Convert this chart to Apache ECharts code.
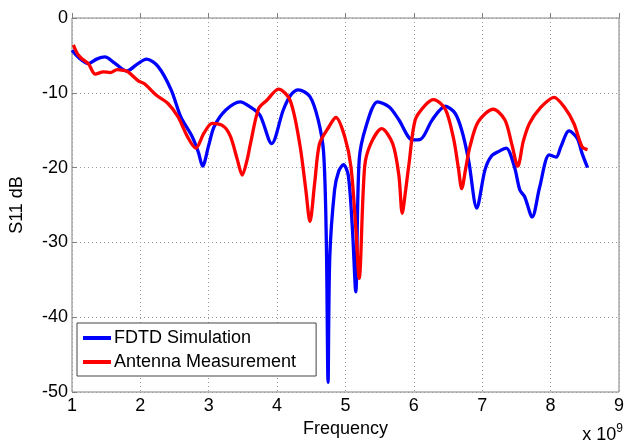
<!DOCTYPE html>
<html><head><meta charset="utf-8">
<script src="https://cdn.jsdelivr.net/npm/echarts@6/dist/echarts.min.js"></script>
<style>html,body{margin:0;padding:0;background:#fff}#c{width:627px;height:444px}</style>
</head><body><div id="c"></div>
<script>
const xTicks = [1,2,3,4,5,6,7,8,9];
const yTicks = [-50,-40,-30,-20,-10,0];
const simFreq = [1.00,1.10,1.24,1.36,1.48,1.62,1.80,1.95,2.09,2.26,2.45,2.59,2.76,2.85,2.91,3.00,3.08,3.25,3.46,3.61,3.75,3.92,4.09,4.20,4.31,4.48,4.60,4.68,4.72,4.745,4.77,4.84,4.90,4.97,5.04,5.10,5.15,5.20,5.30,5.47,5.64,5.78,5.98,6.10,6.27,6.46,6.60,6.70,6.80,6.92,7.04,7.13,7.25,7.35,7.47,7.55,7.62,7.73,7.84,7.98,8.08,8.15,8.27,8.39,8.46,8.54];
const simDb = [-4.3,-5.3,-6.1,-5.5,-5.2,-6.0,-7.1,-6.2,-5.5,-6.5,-9.6,-13.2,-15.9,-18.0,-19.8,-17.0,-14.5,-12.3,-11.2,-11.9,-13.0,-16.8,-12.3,-10.3,-9.6,-10.5,-13.6,-18.0,-30.0,-48.7,-32.0,-23.0,-20.5,-19.6,-21.0,-28.0,-36.6,-19.0,-14.5,-11.2,-11.9,-13.6,-16.3,-16.2,-13.6,-11.8,-12.7,-15.0,-19.0,-25.4,-20.3,-18.5,-17.8,-17.4,-19.9,-23.0,-23.9,-26.6,-22.6,-18.3,-18.6,-17.2,-15.1,-16.1,-18.1,-20.0];
const measFreq = [1.02,1.08,1.14,1.24,1.34,1.46,1.56,1.66,1.75,1.82,1.97,2.06,2.23,2.40,2.55,2.69,2.81,2.93,3.05,3.22,3.32,3.42,3.49,3.56,3.61,3.73,3.85,4.02,4.19,4.33,4.42,4.48,4.55,4.62,4.74,4.86,4.99,5.08,5.15,5.20,5.28,5.37,5.53,5.69,5.78,5.83,5.88,5.93,6.02,6.17,6.29,6.46,6.58,6.65,6.70,6.76,6.82,6.94,7.16,7.33,7.43,7.52,7.60,7.69,7.84,8.05,8.20,8.34,8.46,8.54];
const measDb = [-3.6,-4.8,-5.4,-6.1,-7.5,-7.2,-7.3,-6.9,-7.0,-7.2,-8.4,-8.8,-10.3,-11.4,-13.2,-15.9,-17.4,-15.4,-14.1,-14.5,-15.9,-19.0,-21.0,-19.0,-16.8,-12.1,-11.0,-9.5,-11.0,-16.8,-23.0,-27.2,-22.0,-16.8,-14.8,-13.3,-15.9,-19.9,-28.0,-34.8,-19.9,-16.8,-14.8,-16.8,-21.0,-26.1,-23.0,-19.4,-13.6,-11.6,-10.9,-12.2,-16.1,-20.0,-22.8,-20.0,-17.2,-13.9,-12.2,-13.6,-16.8,-19.8,-16.5,-14.1,-12.1,-10.6,-11.9,-14.1,-17.2,-17.6];
const seriesNames = ['FDTD Simulation','Antenna Measurement'];

const font = 'Liberation Sans, Arial, sans-serif';
const axisGray = '#808080';
const chart = echarts.init(document.getElementById('c'), null, {renderer:'canvas'});
const zip = (a,b)=>a.map((v,i)=>[v,b[i]]);
chart.setOption({
  animation:false,
  grid:{left:70,right:5,top:18,bottom:52,show:true,borderColor:axisGray,borderWidth:1,backgroundColor:'transparent'},
  xAxis:{type:'value',min:xTicks[0],max:xTicks[xTicks.length-1],interval:1,
    name:'Frequency',nameLocation:'middle',nameGap:26,
    nameTextStyle:{fontFamily:font,fontSize:18,color:'#000'},
    axisLine:{show:false},axisTick:{show:true,inside:true,length:5,lineStyle:{color:axisGray}},
    axisLabel:{fontFamily:font,fontSize:18,color:'#000',margin:5,formatter:v=>String(v)},
    splitLine:{show:true,lineStyle:{color:'#9a9a9a',type:[1,3],width:1}}},
  yAxis:{type:'value',min:yTicks[0],max:yTicks[yTicks.length-1],interval:10,
    name:'S11 dB',nameLocation:'middle',nameGap:46,
    nameTextStyle:{fontFamily:font,fontSize:18,color:'#000'},
    axisLine:{show:false},axisTick:{show:true,inside:true,length:5,lineStyle:{color:axisGray}},
    axisLabel:{fontFamily:font,fontSize:18,color:'#000',margin:4},
    splitLine:{show:true,lineStyle:{color:'#9a9a9a',type:[1,3],width:1}}},
  legend:{orient:'vertical',left:77,top:323,padding:[6,20,5,6],itemGap:6,
    borderColor:'#444',borderWidth:1,backgroundColor:'#fff',
    icon:'rect',itemWidth:28,itemHeight:4,
    textStyle:{fontFamily:font,fontSize:18,color:'#000',padding:[0,0,0,-2]},
    data:seriesNames},
  graphic:[{type:'text',right:4,top:423,style:{
    rich:{a:{fontFamily:font,fontSize:18,fill:'#000'},b:{fontFamily:font,fontSize:12,fill:'#000',verticalAlign:'top',padding:[0,0,12,0]}},
    text:'{a|x 10}{b|9}'}}],
  series:[
    {name:seriesNames[0],type:'line',data:zip(simFreq,simDb),smooth:0.3,showSymbol:false,symbol:'none',
     lineStyle:{color:'#0000ff',width:3.3},itemStyle:{color:'#0000ff'}},
    {name:seriesNames[1],type:'line',data:zip(measFreq,measDb),smooth:0.3,showSymbol:false,symbol:'none',
     lineStyle:{color:'#ff0000',width:3.3},itemStyle:{color:'#ff0000'}}
  ]
});
</script></body></html>
